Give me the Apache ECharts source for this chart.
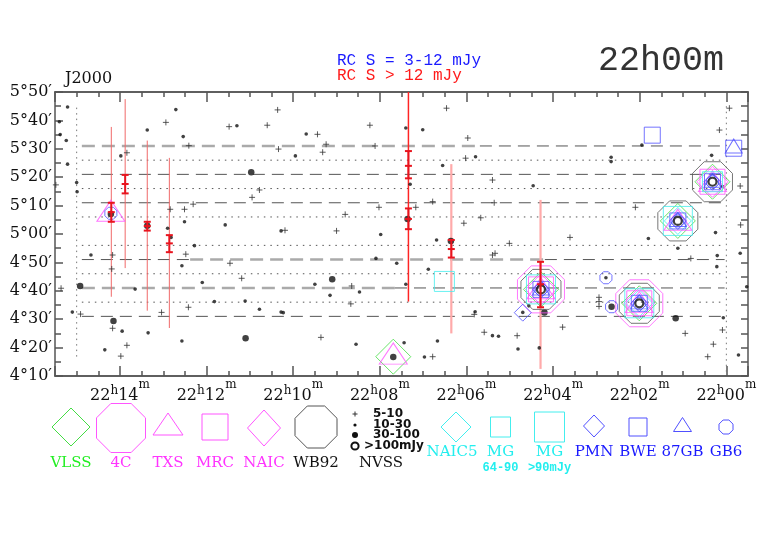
<!DOCTYPE html>
<html>
<head>
<meta charset="utf-8">
<script src="https://cdn.jsdelivr.net/npm/echarts@6/dist/echarts.min.js"></script>
<style>
html, body { margin: 0; padding: 0; background: #fff; }
#main { width: 782px; height: 542px; }
</style>
</head>
<body>
<div id="main"></div>
<script>
// RA in minutes after 22h, Dec in arcmin (5°10' = 310)

// NVSS sources by flux class
var nvss5_10 = [[15.48,317.3],[12.94,339.3],[12.41,331.1],[13.84,328.6],[11.48,337.8],[10.95,312.9],[10.78,315.5],[12.31,310.5],[12.84,308.7],[12.51,308.7],[14.17,292.6],[12.48,292.9],[11.46,289.7],[14.19,287.7],[15.36,280.9],[11.19,284.4],[14.91,271.8],[13.04,272.4],[12.42,274.2],[14.17,266.8],[13.84,260.8],[13.98,257.0],[10.36,343.7],[10.60,338.3],[9.44,335.1],[9.24,331.6],[10.34,329.9],[9.32,328.8],[8.23,338.3],[8.11,331.0],[6.46,344.3],[5.97,333.8],[6.02,326.7],[5.40,319.0],[7.17,309.4],[8.02,309.4],[8.80,306.9],[5.36,311.0],[5.67,305.7],[6.06,303.8],[10.19,301.3],[9.00,301.1],[5.01,296.7],[5.40,292.6],[5.34,293.2],[8.65,281.7],[8.67,275.4],[5.82,271.7],[9.36,263.6],[5.59,265.4],[4.83,264.2],[6.78,256.8],[6.78,311.4],[-0.07,344.3],[0.16,336.6],[-0.32,316.9],[2.10,309.4],[3.61,298.8],[-0.33,303.2],[0.82,291.4],[2.94,277.7],[2.94,276.2],[2.94,274.5],[0.09,266.2],[0.95,265.0],[3.78,267.2],[0.30,261.2],[0.43,256.8]];
var nvss10_30 = [[15.21,344.7],[15.40,339.5],[15.38,335.0],[15.24,332.9],[15.21,324.6],[15.00,318.1],[14.99,314.9],[12.71,343.8],[13.37,336.6],[12.54,334.3],[13.98,327.5],[11.30,338.1],[12.51,304.3],[11.57,303.2],[12.90,302.0],[12.82,298.8],[12.28,295.9],[14.67,292.6],[12.57,288.8],[13.65,280.6],[12.10,282.9],[11.82,276.2],[11.11,276.4],[15.10,272.5],[10.78,273.5],[13.95,265.8],[13.35,265.2],[12.57,262.3],[14.35,259.2],[9.70,335.2],[9.95,327.5],[7.40,337.3],[7.01,336.7],[5.79,327.2],[6.55,324.1],[7.30,317.5],[10.28,301.1],[7.98,299.8],[6.69,297.9],[8.09,291.4],[7.61,289.7],[6.88,287.6],[9.50,282.3],[7.40,282.3],[9.15,278.4],[8.47,279.6],[10.28,272.5],[10.23,272.3],[5.80,272.6],[8.55,261.2],[7.44,261.7],[6.67,262.3],[5.40,264.2],[5.26,264.0],[4.81,259.5],[6.97,256.7],[1.95,331.3],[0.34,327.7],[2.66,327.0],[2.66,325.5],[4.46,317.0],[1.80,298.4],[0.25,300.5],[0.09,316.7],[1.12,295.0],[0.21,292.4],[0.22,288.5],[-0.32,293.2],[-0.47,281.4],[2.78,284.6],[4.56,274.7],[4.70,272.4],[0.07,270.5],[4.32,259.9],[-0.28,257.4]];
var nvss30_100 = [[10.97,321.7],[14.21,307.0],[13.37,302.9],[14.92,281.7],[14.15,269.4],[11.10,263.3],[9.10,284.1],[7.36,305.3],[6.36,297.5],[7.69,256.7],[4.20,272.4],[1.17,270.3],[2.65,274.4]];
var nvss100 = [[0.32,318.4],[1.12,304.6],[2.01,275.6],[4.28,280.5]];

// other catalogues
var vlss = [[0.32,318.4],[1.12,304.6],[2.01,275.6],[4.28,280.5],[7.69,256.8]];
var c4 = [[2.01,275.6],[4.28,280.5]];
var txs = [[0.32,318.6],[1.12,305.0],[2.01,276.0],[4.28,280.9],[14.21,308.2],[7.69,257.9]];
var mrc = [[0.32,318.4],[2.01,275.6],[4.28,280.5]];
var naic = [[0.32,318.4],[2.01,275.6],[4.28,280.5]];
var wb92 = [[0.32,318.4],[1.12,304.6],[2.01,275.6],[4.28,280.5]];
var naic5 = [[1.12,304.6],[2.01,275.6]];
var mg64 = [[0.32,318.4],[6.51,283.3]];
var mg90 = [[1.12,304.6],[2.01,275.6],[4.28,280.5]];
var pmn = [[0.32,318.4],[1.12,304.6],[2.01,275.6],[4.28,280.5],[4.70,272.3]];
var bwe = [[0.32,318.4],[1.12,304.6],[2.01,275.6],[4.28,280.5],[1.71,334.8],[-0.17,330.2]];
var gb87 = [[0.32,318.9],[1.12,305.1],[2.01,276.1],[4.28,281.0],[-0.17,331.0]];
var gb6 = [[0.32,318.4],[1.12,304.6],[2.01,275.6],[4.28,280.5],[14.21,307.3],[2.78,284.6],[2.65,274.4]];

// RC sources: declination strips [ra, decTop, decBottom]
var rcFaint = [[14.20,337.7,277.9],[13.88,347.5,288.0],[13.37,332.9,273.0],[12.86,326.8,266.9]];
var rcBright = [[7.34,350.0,276.2]];
var rcPale = [[6.35,324.6,265.0],[4.29,312.0,252.5]];
// RC error bars [ra, low, mid, high]
var rcBars = [[14.20,304.3,307.7,311.0],[13.88,314.3,317.6,320.8],[13.37,301.2,302.8,304.3],[12.86,293.6,296.7,299.6],[7.34,319.6,324.0,329.2],[7.34,301.7,305.3,309.0],[6.35,291.7,294.7,297.9],[4.29,274.2,282.3,290.2]];

// strip boundaries [raFrom, dec, raTo]
var darkDash = [[5.69,331,0.04],[14.88,321,0.04],[14.88,311,0.04],[14.88,291,12.38],[4.19,291,0.04],[7.65,281,0.04],[14.88,271,0.04]];
var grayDash = [[14.88,331,5.69],[12.38,291,4.19],[14.88,281,7.65]];
var dottedDec = [326, 316, 306, 296, 286, 276];
var stripSpan = [14.88, 0.04];
var surveyEdges = [[15.0,344.5,255.5],[0.0,345.0,251.0]];

var xTickLabels = [0, 2, 4, 6, 8, 10, 12, 14];

var OCT = 'path://M29.3,0L70.7,0L100,29.3L100,70.7L70.7,100L29.3,100L0,70.7L0,29.3Z';
var PLUS = 'path://M5,0L5,10M0,5L10,5';
var GREEN = '#44dd44', MAG = '#ff55ff', GREY = '#555', CYAN = '#44eeee', BLUE = '#5050ff';

var myChart = echarts.init(document.getElementById('main'));

function pad2(n) { return (n < 10 ? '0' : '') + n; }

function hollow(name, data, symbol, size, color, z) {
    return {
        name: name, type: 'scatter', data: data, symbol: symbol, symbolSize: size,
        z: z || 4, silent: true, animation: false,
        itemStyle: { color: 'rgba(0,0,0,0)', borderColor: color, borderWidth: 1 }
    };
}

function segSeries(rows, style, z) {
    // rows: [raFrom, dec, raTo]
    return {
        type: 'custom', data: rows, z: z, silent: true, animation: false,
        renderItem: function (params, api) {
            var a = api.coord([api.value(0), api.value(1)]);
            var b = api.coord([api.value(2), api.value(1)]);
            return { type: 'line', shape: { x1: a[0], y1: a[1], x2: b[0], y2: b[1] }, style: style };
        }
    };
}

function vSeries(rows, style, z) {
    // rows: [ra, decTop, decBottom]
    return {
        type: 'custom', data: rows, z: z, silent: true, animation: false,
        renderItem: function (params, api) {
            var a = api.coord([api.value(0), api.value(1)]);
            var b = api.coord([api.value(0), api.value(2)]);
            return { type: 'line', shape: { x1: a[0], y1: a[1], x2: b[0], y2: b[1] }, style: style };
        }
    };
}

var dottedRows = dottedDec.map(function (d) { return [stripSpan[0], d, stripSpan[1]]; });

var barStyle = { stroke: '#e8141e', lineWidth: 2 };
var errSeries = {
    type: 'custom', data: rcBars, z: 7, silent: true, animation: false,
    renderItem: function (params, api) {
        var x = api.value(0);
        var lo = api.coord([x, api.value(1)]);
        var md = api.coord([x, api.value(2)]);
        var hi = api.coord([x, api.value(3)]);
        var w = 3.5;
        function cap(p) {
            return { type: 'line', shape: { x1: p[0] - w, y1: p[1], x2: p[0] + w, y2: p[1] }, style: barStyle };
        }
        return {
            type: 'group', children: [
                { type: 'line', shape: { x1: lo[0], y1: lo[1], x2: hi[0], y2: hi[1] }, style: barStyle },
                cap(lo), cap(md), cap(hi)
            ]
        };
    }
};

// ---- legend under the plot ----
var legendLeft = [
    { name: 'VLSS', kind: 'diamond', w: 38, h: 38, cx: 71, cy: 427, color: GREEN, text: '#22ee22' },
    { name: '4C', kind: 'octagon', w: 49, h: 49, cx: 121, cy: 428, color: MAG, text: '#ff33ff' },
    { name: 'TXS', kind: 'triangle', w: 30, h: 22, cx: 168, cy: 424, color: MAG, text: '#ff33ff' },
    { name: 'MRC', kind: 'square', w: 26, h: 26, cx: 215, cy: 427, color: MAG, text: '#ff33ff' },
    { name: 'NAIC', kind: 'diamond', w: 33, h: 36, cx: 264, cy: 428, color: MAG, text: '#ff33ff' },
    { name: 'WB92', kind: 'octagon', w: 42, h: 42, cx: 316, cy: 427, color: GREY, text: '#111' }
];
var legendRight = [
    { name: 'NAIC5', kind: 'diamond', w: 30, h: 30, cx: 456, cy: 427, tx: 452, color: CYAN, text: '#22eeee' },
    { name: 'MG', sub: '64-90', kind: 'square', w: 20, h: 20, cx: 500.5, cy: 427, color: CYAN, text: '#22eeee' },
    { name: 'MG', sub: '>90mJy', kind: 'square', w: 30, h: 30, cx: 549.5, cy: 427, color: CYAN, text: '#22eeee' },
    { name: 'PMN', kind: 'diamond', w: 21, h: 22, cx: 594, cy: 426, color: BLUE, text: '#1a1aff' },
    { name: 'BWE', kind: 'square', w: 18, h: 18, cx: 638, cy: 427, color: BLUE, text: '#1a1aff' },
    { name: '87GB', kind: 'triangle', w: 18, h: 14, cx: 682.5, cy: 424.5, color: BLUE, text: '#1a1aff' },
    { name: 'GB6', kind: 'octagon', w: 14, h: 14, cx: 726, cy: 427, color: BLUE, text: '#1a1aff' }
];
var nvssKeys = ['5-10', '10-30', '30-100', '>100mJy'];

function shapeEl(it) {
    var x = it.cx, y = it.cy, hw = it.w / 2, hh = it.h / 2, pts;
    var st = { fill: 'none', stroke: it.color, lineWidth: 1 };
    if (it.kind === 'square') {
        return { type: 'rect', shape: { x: x - hw, y: y - hh, width: it.w, height: it.h }, style: st };
    }
    if (it.kind === 'diamond') {
        pts = [[x, y - hh], [x + hw, y], [x, y + hh], [x - hw, y]];
    } else if (it.kind === 'triangle') {
        pts = [[x, y - hh], [x + hw, y + hh], [x - hw, y + hh]];
    } else {
        var a = hw * 0.414, b = hh * 0.414;
        pts = [[x - a, y - hh], [x + a, y - hh], [x + hw, y - b], [x + hw, y + b], [x + a, y + hh], [x - a, y + hh], [x - hw, y + b], [x - hw, y - b]];
    }
    return { type: 'polygon', shape: { points: pts }, style: st };
}

function textEl(txt, x, y, font, color, align) {
    return {
        type: 'text', x: x, y: y,
        style: { text: txt, font: font, fill: color, align: align || 'center', verticalAlign: 'middle',
                 textAlign: align || 'center', textVerticalAlign: 'middle' }
    };
}

var graphics = [];
var LFONT = '15px "DejaVu Serif"';
legendLeft.forEach(function (it) {
    graphics.push(shapeEl(it));
    graphics.push(textEl(it.name, it.cx, 463, LFONT, it.text));
});
legendRight.forEach(function (it) {
    graphics.push(shapeEl(it));
    graphics.push(textEl(it.name, it.tx || it.cx, 452, LFONT, it.text));
    if (it.sub) graphics.push(textEl(it.sub, it.cx, 468, 'bold 12px "Liberation Mono"', '#22eeee'));
});
// NVSS key
var keyY = [414, 425, 435, 446];
graphics.push({ type: 'group', children: [
    { type: 'line', shape: { x1: 352.5, y1: keyY[0], x2: 357.5, y2: keyY[0] }, style: { stroke: '#333', lineWidth: 1 } },
    { type: 'line', shape: { x1: 355, y1: keyY[0] - 2.5, x2: 355, y2: keyY[0] + 2.5 }, style: { stroke: '#333', lineWidth: 1 } },
    { type: 'circle', shape: { cx: 355, cy: keyY[1], r: 1.6 }, style: { fill: '#111' } },
    { type: 'circle', shape: { cx: 355, cy: keyY[2], r: 3 }, style: { fill: '#111' } },
    { type: 'circle', shape: { cx: 355, cy: keyY[3], r: 3.6 }, style: { fill: 'none', stroke: '#111', lineWidth: 2 } }
] });
nvssKeys.forEach(function (k, i) {
    graphics.push(textEl(k, i === 3 ? 364 : 373, keyY[i], 'bold 12px "DejaVu Sans"', '#111', 'left'));
});
graphics.push(textEl('NVSS', 381, 463, LFONT, '#111'));
// header texts
graphics.push(textEl('J2000', 65, 79, '16px "DejaVu Serif"', '#111', 'left'));
graphics.push(textEl('RC S = 3-12 mJy', 337, 61, '16px "Liberation Mono"', '#1a1aff', 'left'));
graphics.push(textEl('RC S > 12 mJy', 337, 76, '16px "Liberation Mono"', '#ff1a1a', 'left'));
graphics.push(textEl('22h00m', 598, 61, '35px "Liberation Mono"', '#333', 'left'));

var AX = { lineStyle: { color: '#555', width: 1.5 } };
var xBase = { type: 'value', min: -0.5, max: 15.5, inverse: true, splitLine: { show: false } };
function xAxisDef(pos, major) {
    var o = echarts.util.extend({}, xBase);
    o.position = pos;
    o.axisLine = { show: true, onZero: false, lineStyle: AX.lineStyle };
    o.axisTick = { show: true, inside: true, length: major ? 10 : 5, lineStyle: AX.lineStyle };
    if (major) {
        o.splitNumber = 8; o.minInterval = 2; o.maxInterval = 2;
    } else {
        o.interval = 0.5;
    }
    o.axisLabel = { show: false };
    return o;
}
var xAxes = [xAxisDef('bottom', false), xAxisDef('bottom', true), xAxisDef('top', false), xAxisDef('top', true)];
xAxes[1].axisLabel = {
    show: true, margin: 3,
    formatter: function (v) {
        if (xTickLabels.indexOf(v) < 0) return '';
        return '{n|22}{h|h}{n|' + pad2(v) + '}{m|m}';
    },
    rich: {
        n: { fontFamily: 'DejaVu Serif', fontSize: 16, color: '#111' },
        h: { fontFamily: 'DejaVu Serif', fontSize: 12, color: '#111', padding: [0, 0, 10, 0] },
        m: { fontFamily: 'DejaVu Serif', fontSize: 12, color: '#111', padding: [0, 0, 22, 0] }
    }
};

function yAxisDef(pos, labels) {
    return {
        type: 'value', position: pos, min: 250, max: 350, interval: 10,
        splitLine: { show: false },
        axisLine: { show: true, onZero: false, lineStyle: AX.lineStyle },
        axisTick: { show: true, inside: true, length: labels ? 8 : 7, lineStyle: AX.lineStyle },
        minorTick: { show: true, splitNumber: 2, length: labels ? 6 : 7, lineStyle: AX.lineStyle },
        axisLabel: {
            show: labels, margin: 3, fontFamily: 'DejaVu Serif', fontSize: 16, color: '#111',
            formatter: function (v) { return Math.floor(v / 60) + '°' + pad2(v % 60) + '′'; }
        }
    };
}

option = {
    animation: false,
    backgroundColor: '#fff',
    grid: { left: 55, right: 34, top: 92, bottom: 166 },
    xAxis: xAxes,
    yAxis: [yAxisDef('left', true), yAxisDef('right', false)],
    graphic: graphics,
    series: [
        segSeries(darkDash, { stroke: '#555', lineWidth: 1, lineDash: [12, 7] }, 1),
        segSeries(grayDash, { stroke: '#aaa', lineWidth: 2.5, lineDash: [13, 7] }, 1),
        segSeries(dottedRows, { stroke: '#555', lineWidth: 1, lineDash: [1.5, 5] }, 1),
        vSeries(surveyEdges, { stroke: '#777', lineWidth: 1, lineDash: [1.5, 4] }, 1),
        vSeries(rcFaint, { stroke: '#f06a6a', lineWidth: 1 }, 2),
        vSeries(rcBright, { stroke: '#ff2424', lineWidth: 1.5 }, 2),
        vSeries(rcPale, { stroke: '#ffaaaa', lineWidth: 2.2 }, 2),
        { name: 'NVSS 5-10', type: 'scatter', data: nvss5_10, symbol: PLUS, symbolSize: 6, z: 3, silent: true,
          itemStyle: { color: 'rgba(0,0,0,0)', borderColor: '#333', borderWidth: 1 } },
        { name: 'NVSS 10-30', type: 'scatter', data: nvss10_30, symbol: 'circle', symbolSize: 3.6, z: 3, silent: true,
          itemStyle: { color: '#111' } },
        { name: 'NVSS 30-100', type: 'scatter', data: nvss30_100, symbol: 'circle', symbolSize: 6.5, z: 3, silent: true,
          itemStyle: { color: '#111' } },
        hollow('4C', c4, OCT, 47, MAG),
        hollow('WB92', wb92, OCT, 40, GREY),
        hollow('VLSS', vlss, 'diamond', 35, GREEN),
        hollow('NAIC', naic, 'diamond', 31, MAG),
        hollow('NAIC5', naic5, 'diamond', 27, CYAN),
        hollow('MG >90', mg90, 'rect', 29, CYAN),
        hollow('MRC', mrc, 'rect', 25, MAG),
        hollow('TXS', txs, 'triangle', [28, 21], MAG),
        hollow('MG 64-90', mg64, 'rect', 20, CYAN),
        hollow('PMN', pmn, 'diamond', 17, BLUE),
        hollow('BWE', bwe, 'rect', 16, BLUE),
        hollow('87GB', gb87, 'triangle', [17, 14], BLUE),
        hollow('GB6', gb6, OCT, 12, BLUE),
        { name: 'NVSS >100', type: 'scatter', data: nvss100, symbol: 'circle', symbolSize: 8, z: 6, silent: true,
          itemStyle: { color: 'rgba(0,0,0,0)', borderColor: '#111', borderWidth: 2.2 } },
        errSeries
    ]
};

myChart.setOption(option);
window.onresize = function () {
    myChart.resize();
};
</script>
</body>
</html>
